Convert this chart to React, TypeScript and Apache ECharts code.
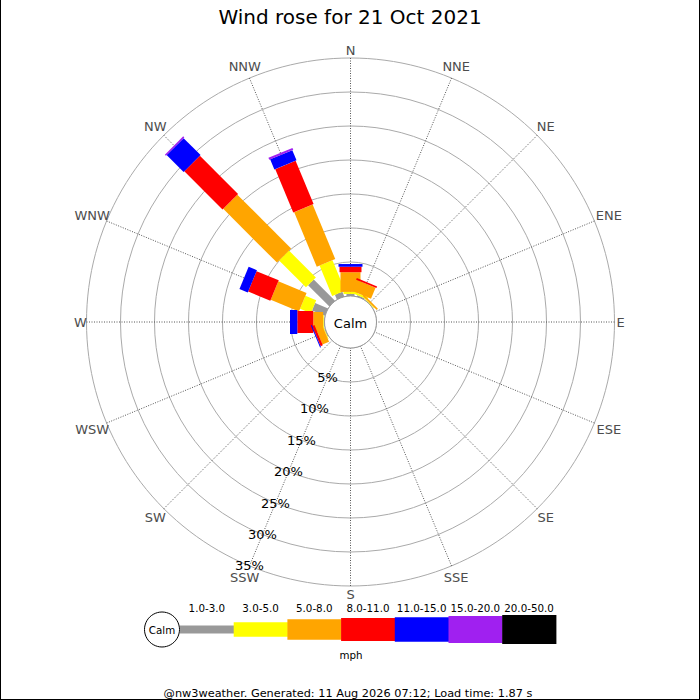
import React, { useEffect, useRef } from 'react';
import * as echarts from 'echarts';

// ---------- data ----------
const directions = ['N', 'NNE', 'NE', 'ENE', 'E', 'ESE', 'SE', 'SSE', 'S', 'SSW', 'SW', 'WSW', 'W', 'WNW', 'NW', 'NNW'];
const speedBins = ['1.0-3.0', '3.0-5.0', '5.0-8.0', '8.0-11.0', '11.0-15.0', '15.0-20.0', '20.0-50.0'];
// % of time per direction (N .. NNW) for each speed bin (mph)
const bin1to3 = [0.3, 0.2, 0.05, 0, 0, 0, 0, 0, 0, 0, 0, 0.1, 0.1, 2.06, 4.41, 0.74];
const bin3to5 = [0.3, 0.3, 0.1, 0, 0, 0, 0, 0, 0, 0, 0, 0.1, 0.1, 1.72, 5.59, 4.85];
const bin5to8 = [2.9, 1.75, 0.25, 0, 0, 0, 0, 0, 0, 0, 0, 1.05, 1.45, 4.49, 11.18, 8.68];
const bin8to11 = [0.8, 0.25, 0, 0, 0, 0, 0, 0, 0, 0, 0, 0.35, 2.35, 3.53, 7.94, 6.91];
const bin11to15 = [0.4, 0, 0, 0, 0, 0, 0, 0, 0, 0, 0, 0.15, 1.07, 1.32, 3.53, 1.62];
const bin15to20 = [0, 0, 0, 0, 0, 0, 0, 0, 0, 0, 0, 0, 0, 0, 0.22, 0.3];
const bin20to50 = [0, 0, 0, 0, 0, 0, 0, 0, 0, 0, 0, 0, 0, 0, 0, 0];
const percentTicks = [5, 10, 15, 20, 25, 30, 35];
const RADIUS_MAX = 35;
const TICK_STEP = 5;
const titleText = 'Wind rose for 21 Oct 2021';
const footerText = '@nw3weather. Generated: 11 Aug 2026 07:12; Load time: 1.87 s';
const unitText = 'mph';
const calmText = 'Calm';

// ---------- styles / layout ----------
const FONT = 'DejaVu Sans';
const COLORS = ['#999999', '#ffff00', '#ffa500', '#ff0000', '#0000ff', '#a020f0', '#000000'];
const BAR_WIDTHS = [8, 14, 20, 22, 24, 26, 28];
const LEGEND_HEIGHTS = [8, 14.5, 20.6, 23, 24.7, 27, 29];
const CENTER = [350.5, 322];
const RADII = [26, 264];
const LABEL_ANGLE = 202.5; // SSW
const LEG_X0 = 180;
const LEG_W = 53.7;
const LEG_CY = 629.5;

const allBins = [bin1to3, bin3to5, bin5to8, bin8to11, bin11to15, bin15to20, bin20to50];
const STEP = 360 / directions.length;

function buildOption() {
  const cum = directions.map(() => 0);
  const barSeries = allBins.map((vals, b) => {
    const data: number[][] = [];
    vals.forEach((v, i) => {
      if (v > 0) data.push([cum[i] + v, i * STEP, cum[i]]);
      cum[i] += v;
    });
    const w = BAR_WIDTHS[b];
    const color = COLORS[b];
    return {
      type: 'custom',
      name: speedBins[b],
      coordinateSystem: 'polar',
      polarIndex: 0,
      data,
      renderItem: (params: any, api: any) => {
        const end = api.value(0);
        const ang = api.value(1);
        const start = api.value(2);
        const cs = params.coordSys;
        const p1 = api.coord([end, ang]);
        const p0 = api.coord([start, ang]);
        let dx = p1[0] - cs.cx;
        let dy = p1[1] - cs.cy;
        const len = Math.hypot(dx, dy) || 1;
        dx /= len;
        dy /= len;
        const q0 = start === 0 ? [cs.cx + dx * (cs.r0 - 4), cs.cy + dy * (cs.r0 - 4)] : p0;
        const hw = w / 2;
        const px = -dy * hw;
        const py = dx * hw;
        return {
          type: 'polygon',
          shape: {
            points: [
              [q0[0] + px, q0[1] + py],
              [p1[0] + px, p1[1] + py],
              [p1[0] - px, p1[1] - py],
              [q0[0] - px, q0[1] - py],
            ],
          },
          style: { fill: color },
        };
      },
    };
  });

  const calmSeries = {
    type: 'custom',
    coordinateSystem: 'polar',
    polarIndex: 0,
    data: [[0, 0]],
    renderItem: (params: any) => {
      const cs = params.coordSys;
      return {
        type: 'group',
        children: [
          { type: 'circle', shape: { cx: cs.cx, cy: cs.cy, r: cs.r0 }, style: { fill: '#ffffff', stroke: '#999999', lineWidth: 1 } },
          {
            type: 'text',
            x: cs.cx,
            y: cs.cy + 1,
            style: { text: calmText, fill: '#000', fontSize: 13, fontFamily: FONT, align: 'center', verticalAlign: 'middle' },
          },
        ],
      };
    },
  };

  const percentSeries = {
    type: 'custom',
    coordinateSystem: 'polar',
    polarIndex: 0,
    data: percentTicks.map((p) => [p, LABEL_ANGLE]),
    renderItem: (params: any, api: any) => {
      const p = api.coord([api.value(0), api.value(1)]);
      return {
        type: 'text',
        x: p[0],
        y: p[1],
        style: { text: api.value(0) + '%', fill: '#000', fontSize: 13, fontFamily: FONT, align: 'center', verticalAlign: 'middle' },
      };
    },
  };

  const dirSeries = {
    type: 'custom',
    coordinateSystem: 'polar',
    polarIndex: 0,
    data: directions.map((d, i) => [RADIUS_MAX, i * STEP, i]),
    renderItem: (params: any, api: any) => {
      const cs = params.coordSys;
      const idx = api.value(2);
      const label = directions[idx];
      const p = api.coord([api.value(0), api.value(1)]);
      let dx = p[0] - cs.cx;
      let dy = p[1] - cs.cy;
      const len = Math.hypot(dx, dy) || 1;
      dx /= len;
      dy /= len;
      const halfW = label.length * 5.1;
      const off = 2 + halfW * 0.8 * Math.abs(dx) + 6 * Math.abs(dy);
      return {
        type: 'text',
        x: p[0] + dx * off,
        y: p[1] + dy * off,
        style: { text: label, fill: '#4d4d4d', fontSize: 13, fontFamily: FONT, align: 'center', verticalAlign: 'middle' },
      };
    },
  };

  const legend: any[] = [];
  legend.push({
    type: 'circle',
    shape: { cx: 162, cy: LEG_CY, r: 17.5 },
    style: { fill: '#fff', stroke: '#000', lineWidth: 1 },
  });
  legend.push({
    type: 'text',
    x: 162,
    y: LEG_CY,
    style: { text: calmText, fill: '#000', fontSize: 10.3, fontFamily: FONT, align: 'center', verticalAlign: 'middle' },
  });
  speedBins.forEach((b, i) => {
    const h = LEGEND_HEIGHTS[i];
    legend.push({
      type: 'rect',
      shape: { x: LEG_X0 + i * LEG_W, y: LEG_CY - h / 2, width: LEG_W + 0.5, height: h },
      style: { fill: COLORS[i] },
    });
    legend.push({
      type: 'text',
      x: LEG_X0 + i * LEG_W + LEG_W / 2,
      y: 607.7,
      style: { text: b, fill: '#000', fontSize: 10.3, fontFamily: FONT, align: 'center', verticalAlign: 'middle' },
    });
  });
  legend.push({
    type: 'text',
    x: 351,
    y: 654.5,
    style: { text: unitText, fill: '#000', fontSize: 10.3, fontFamily: FONT, align: 'center', verticalAlign: 'middle' },
  });
  legend.push({
    type: 'text',
    x: 348,
    y: 693,
    style: { text: footerText, fill: '#000', fontSize: 11.3, fontFamily: FONT, align: 'center', verticalAlign: 'middle' },
  });
  // image frame
  legend.push({ type: 'line', shape: { x1: 0.5, y1: 0, x2: 0.5, y2: 700 }, style: { stroke: '#000', lineWidth: 1 } });
  legend.push({ type: 'line', shape: { x1: 699.5, y1: 0, x2: 699.5, y2: 700 }, style: { stroke: '#000', lineWidth: 1 } });
  legend.push({ type: 'line', shape: { x1: 0, y1: 699.5, x2: 700, y2: 699.5 }, style: { stroke: '#000', lineWidth: 1 } });

  return {
    animation: false,
    backgroundColor: '#ffffff',
    textStyle: { fontFamily: FONT },
    title: {
      text: titleText,
      left: 'center',
      top: 2,
      textStyle: { fontSize: 20, fontWeight: 'normal', color: '#000', fontFamily: FONT },
    },
    polar: [{ center: CENTER, radius: RADII }],
    angleAxis: [
      {
        polarIndex: 0,
        type: 'value',
        min: 0,
        max: 360,
        interval: STEP,
        startAngle: 90,
        clockwise: true,
        axisLine: { show: false },
        axisTick: { show: false },
        axisLabel: { show: false },
        splitLine: { show: true, lineStyle: { color: '#555', width: 1, type: [1, 1.5] } },
      },
    ],
    radiusAxis: [
      {
        polarIndex: 0,
        type: 'value',
        min: 0,
        max: RADIUS_MAX,
        interval: TICK_STEP,
        axisLine: { show: false },
        axisTick: { show: false },
        axisLabel: { show: false },
        splitLine: { show: true, lineStyle: { color: '#aaaaaa', width: 1, type: 'solid' } },
      },
    ],
    graphic: legend,
    series: [...barSeries, calmSeries, percentSeries, dirSeries],
  };
}

export default function App() {
  const ref = useRef<HTMLDivElement>(null);
  useEffect(() => {
    if (!ref.current) return;
    const chart = echarts.init(ref.current, undefined, { renderer: 'svg' });
    chart.setOption(buildOption() as any);
    return () => chart.dispose();
  }, []);
  return (
    <div
      ref={ref}
      style={{ position: 'absolute', left: 0, top: 0, width: 700, height: 700, background: '#fff' }}
    />
  );
}
